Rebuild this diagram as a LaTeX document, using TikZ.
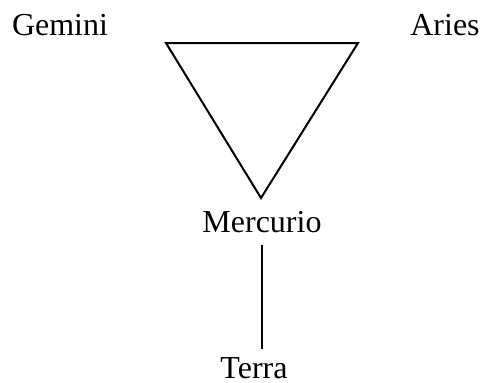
\documentclass[tikz,border=0pt]{standalone}
\usepackage{fontspec}
\setmainfont{Liberation Serif}
\usepackage{tikz}
\usetikzlibrary{positioning,calc}

\begin{document}
\begin{tikzpicture}[x=0.5pt, y=-0.5pt, font=\fontsize{16}{19}\selectfont,
  sign/.style={inner sep=0pt, anchor=base},
  edge/.style={line width=1pt}]
\useasboundingbox (0,0) rectangle (482,382);
\node[sign] (gemini) at (60,35) {Gemini};
\node[sign] (aries) at (445,35) {Aries};
\node[sign] (mercurio) at (262,232) {Mercurio};
\node[sign] (terra) at (254,378) {Terra};
% triangle above Mercurio
\draw[edge, line join=miter] (166,43) -- (358,43) -- (261,198) -- cycle;
\draw[edge, shorten <=6pt, shorten >=4pt] (mercurio.south) -- (mercurio.south |- terra.north);
\end{tikzpicture}
\end{document}
